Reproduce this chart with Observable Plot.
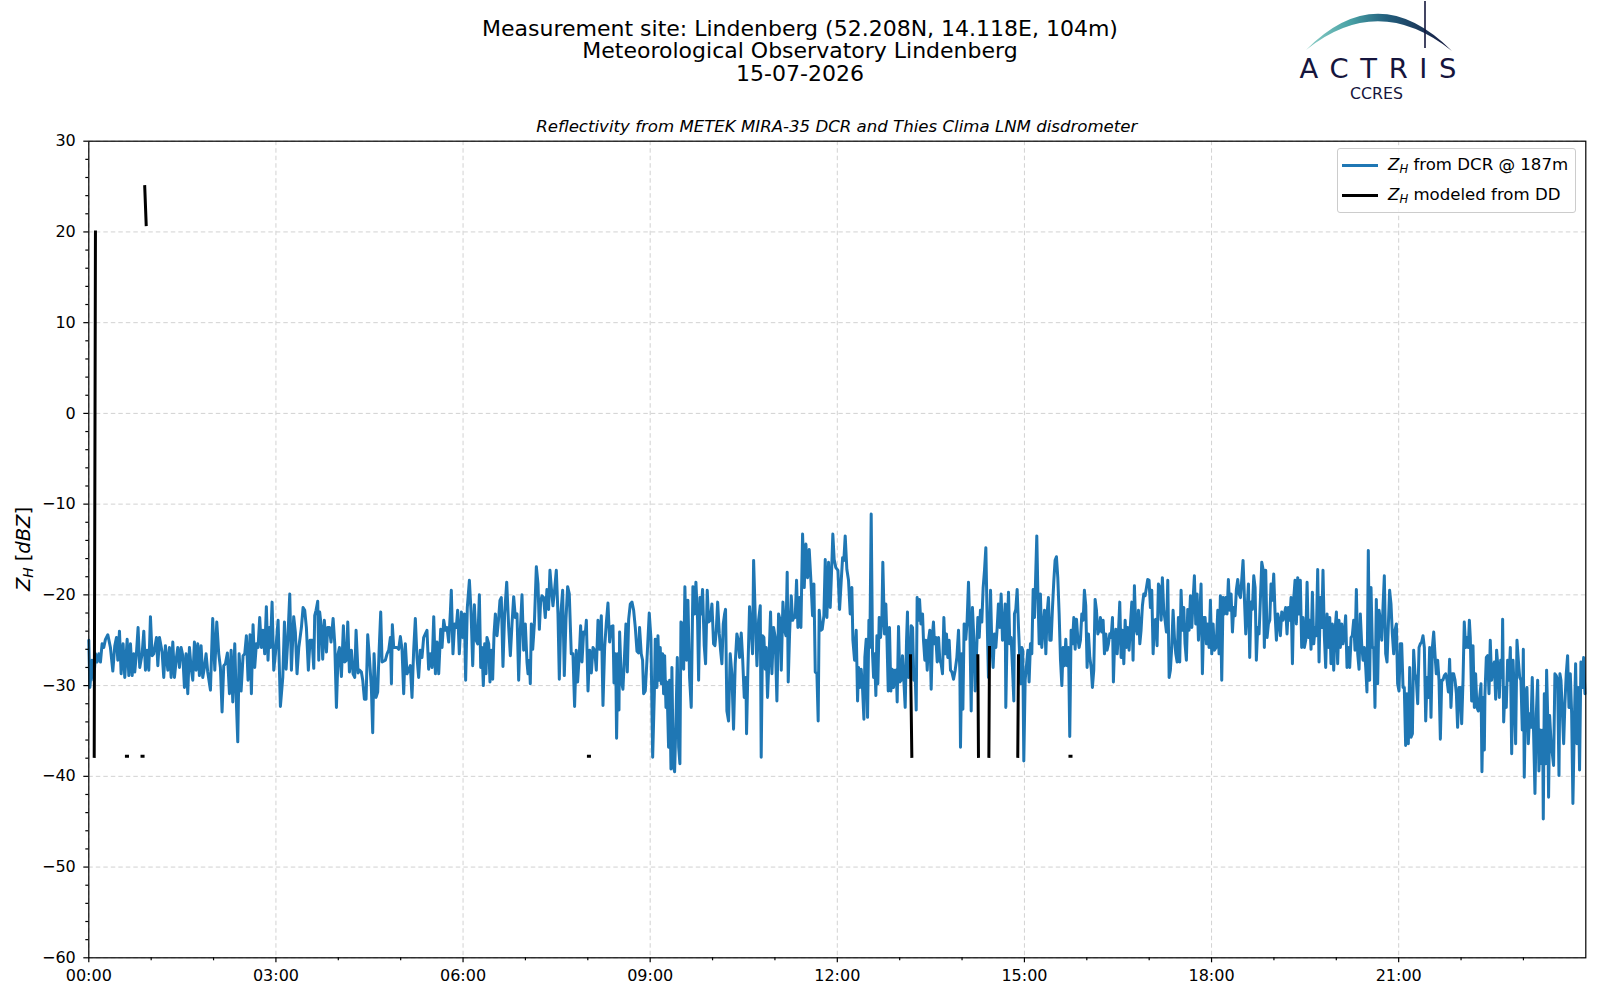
<!DOCTYPE html>
<html>
<head>
<meta charset="utf-8">
<script src="https://cdn.jsdelivr.net/npm/d3@7"></script>
<script src="https://cdn.jsdelivr.net/npm/@observablehq/plot@0.6"></script>
<style>
  html, body { margin: 0; padding: 0; background: #fff; }
  #page { position: relative; width: 1600px; height: 1000px; overflow: hidden; font-family: "DejaVu Sans", sans-serif; color: #000; background: #fff; }
  #chart { position: absolute; left: 0; top: 110px; z-index: 0; }
  #title { position: absolute; left: 0; top: 17.5px; width: 1600px; text-align: center; font-size: 22px; line-height: 22.5px; z-index: 2; }
  #subtitle { position: absolute; left: 88.3px; width: 1497px; top: 117.5px; text-align: center; font-size: 16.6px; line-height: 17px; font-style: italic; z-index: 2; }
  #ylabel { position: absolute; left: 24px; top: 549px; transform: translate(-50%, -50%) rotate(-90deg); font-size: 19.5px; white-space: nowrap; z-index: 2; }
  #ylabel sub, #legend sub { font-size: 0.7em; vertical-align: -0.25em; }
  #legend { position: absolute; left: 1337px; top: 148px; width: 239px; height: 65px; border: 1px solid #cccccc; border-radius: 3px; background: rgba(255,255,255,0.8); box-sizing: border-box; font-size: 16.6px; z-index: 2; }
  .lrow { position: absolute; left: 0; height: 20px; }
  .lline { position: absolute; left: 4px; width: 36px; height: 3px; top: 9px; }
  .ltext { position: absolute; left: 50px; top: 0; line-height: 20px; white-space: nowrap; }
  #logo { position: absolute; left: 0; top: 0; z-index: 2; }
</style>
</head>
<body>
<div id="page">
  <div id="chart"></div>
  <div id="title">Measurement site: Lindenberg (52.208N, 14.118E, 104m)<br>Meteorological Observatory Lindenberg<br>15-07-2026</div>
  <svg id="logo" width="1600" height="110" viewBox="0 0 1600 110">
    <defs>
      <linearGradient id="arcg" x1="1305" y1="0" x2="1452" y2="0" gradientUnits="userSpaceOnUse">
        <stop offset="0" stop-color="#8fd0c8"/>
        <stop offset="0.3" stop-color="#4aa3a6"/>
        <stop offset="0.55" stop-color="#23607e"/>
        <stop offset="1" stop-color="#15173d"/>
      </linearGradient>
    </defs>
    <path d="M1306,50 Q1378,-23 1452,51 Q1378,-8 1306,50 Z" fill="url(#arcg)"/>
    <line x1="1425" y1="1" x2="1425" y2="48" stroke="#15173d" stroke-width="1.6"/>
    <text x="1378" y="78.3" text-anchor="middle" font-family="DejaVu Sans" font-size="27.4" fill="#15153d" textLength="157" lengthAdjust="spacing">ACTRIS</text>
    <text x="1376.5" y="98.7" text-anchor="middle" font-family="DejaVu Sans" font-size="15.5" fill="#15153d" textLength="53" lengthAdjust="spacingAndGlyphs">CCRES</text>
  </svg>
  <div id="subtitle">Reflectivity from METEK MIRA-35 DCR and Thies Clima LNM disdrometer</div>
  <div id="ylabel"><i>Z</i><sub><i>H</i></sub> [<i>dBZ</i>]</div>
  <div id="legend">
    <div class="lrow" style="top:6px;"><div class="lline" style="background:#1f77b4"></div><div class="ltext"><i>Z</i><sub><i>H</i></sub> from DCR @ 187m</div></div>
    <div class="lrow" style="top:35.5px;"><div class="lline" style="background:#000"></div><div class="ltext"><i>Z</i><sub><i>H</i></sub> modeled from DD</div></div>
  </div>
</div>
<script>
// ---- Data: [minutes after 00:00 UTC, Z_H (dBZ)] ----
const dcr_00_03 = [
[0,-25.0],[1,-30.2],[3.2,-27.2],[4.8,-29.4],[6.4,-26.5],[8,-27.4],[9.6,-26.5],[11.2,-27.4],[12.8,-25.4],[14.4,-25.8],[16,-24.9],[18.3,-24.4],[20.8,-25.8],[23.1,-28.4],[25,-25.6],[26.6,-24.7],[27.9,-27.2],[29.5,-24.0],[31.1,-28.7],[33,-25.4],[34.6,-29.1],[36.9,-24.9],[38.5,-28.9],[40.1,-25.4],[41.7,-28.9],[43.3,-26.5],[44.2,-28.5],[45.8,-26.5],[47.4,-23.6],[49,-28.0],[51.3,-26.5],[52.9,-24.0],[54.5,-28.3],[56.1,-26.1],[57.7,-28.3],[59.3,-22.4],[60.9,-26.7],[62.5,-26.5],[65.1,-24.7],[66.4,-27.8],[68,-24.7],[70.5,-26.3],[72.1,-29.1],[73.7,-25.6],[76,-28.3],[77.6,-25.8],[79.2,-29.1],[80.8,-25.2],[82.4,-29.1],[84.3,-26.9],[85.6,-25.8],[87.2,-28.0],[88.8,-25.8],[90.4,-26.7],[92,-30.2],[93.6,-26.5],[95.2,-30.9],[96.8,-25.8],[98.4,-28.0],[100,-29.4],[101.6,-25.2],[103.2,-28.3],[104.8,-25.4],[106.4,-28.9],[108,-25.6],[109.6,-29.1],[111.2,-28.0],[112.8,-26.5],[114.4,-28.5],[117,-30.5],[119.2,-22.6],[121.2,-28.3],[123.1,-23.0],[125,-26.5],[126.6,-28.0],[128.2,-32.9],[129.8,-27.8],[131.4,-27.6],[133.3,-26.4],[135.3,-30.9],[136.9,-26.1],[138.5,-31.8],[140.4,-25.4],[142,-32.0],[143.3,-36.2],[144.6,-26.5],[146.5,-30.6],[148.4,-26.7],[150,-26.5],[151.6,-24.5],[153.2,-29.4],[155.1,-24.4],[156.4,-30.9],[158,-23.3],[159.6,-28.0],[161.2,-25.4],[162.8,-25.8],[164.4,-22.5],[166,-25.8],[167.6,-23.9],[169.2,-26.5],[170.8,-21.3],[172.4,-27.2],[173.7,-23.6],[174.7,-25.8],[176.3,-20.8],[177.9,-28.3]
];
const dcr_03_06 = [
[179.5,-26.5],[182.1,-22.8],[184.3,-32.3],[186.6,-29.1],[188.2,-23.0],[189.8,-28.2],[191.4,-25.0],[193.3,-19.9],[194.9,-28.3],[197.1,-22.4],[198.7,-24.1],[200.3,-28.7],[202,-25.8],[204.5,-23.6],[206.1,-21.4],[207.7,-21.7],[209.3,-23.6],[211.2,-28.3],[212.8,-25.0],[214.8,-25.0],[216.4,-28.1],[217.3,-22.3],[218.6,-21.7],[220.2,-20.7],[221.2,-27.2],[222.1,-21.9],[223.7,-23.6],[225,-27.1],[226.6,-22.8],[228.6,-26.3],[229.8,-23.6],[231.4,-23.6],[233,-25.2],[235,-22.6],[236.6,-25.4],[238.2,-32.4],[239.8,-26.5],[241.1,-25.8],[243,-29.0],[244.9,-23.4],[246.2,-27.4],[247.8,-27.2],[249.1,-23.0],[250.7,-28.5],[252.6,-26.1],[254.2,-28.7],[255.8,-29.1],[257.1,-23.9],[259,-28.6],[260.6,-28.3],[262.2,-28.5],[263.5,-29.4],[265.1,-31.5],[266.7,-31.5],[268.3,-24.4],[269.9,-26.9],[271.8,-30.2],[273.1,-35.2],[274.4,-26.5],[276.3,-31.3],[277.9,-30.7],[279.2,-26.3],[280.8,-21.9],[282.1,-27.4],[285.3,-27.2],[286.9,-26.5],[288.5,-26.1],[290.1,-24.7],[291.1,-29.8],[292,-23.3],[293.3,-25.8],[296.5,-25.8],[298.1,-26.0],[299.7,-24.6],[301.3,-26.0],[302.9,-30.9],[304.5,-25.4],[306.1,-28.7],[307.7,-28.3],[309.3,-27.8],[310.9,-31.3],[312.5,-26.1],[314.1,-22.6],[315.7,-26.9],[317.3,-29.1],[318.9,-26.1],[320.5,-26.9],[322.1,-24.7],[323.7,-24.3],[325.3,-23.9],[326.9,-28.2],[328.5,-26.5],[330.2,-28.0],[331.8,-22.4],[333.4,-28.7],[335,-25.2],[336.6,-28.7],[338.5,-23.8],[339.8,-25.8],[341.4,-22.8],[343,-23.9],[344.6,-23.6],[346.2,-25.2],[347.8,-21.9],[348.7,-19.5],[350.3,-26.5],[351.9,-23.2],[353.5,-23.6],[354.8,-21.7],[356.4,-26.5]
];
const dcr_06_09 = [
[358.4,-21.9],[359.7,-24.7],[361.3,-22.1],[362.5,-29.4],[364.1,-21.4],[366.1,-18.4],[367.7,-21.9],[369.3,-27.8],[370.9,-21.1],[372.5,-25.0],[374.1,-25.4],[375.7,-20.0],[377,-28.0],[378.2,-25.8],[379.5,-30.0],[380.8,-25.4],[382.1,-28.7],[383,-24.7],[384.7,-25.4],[385.9,-29.6],[387.2,-26.1],[388.5,-29.3],[389.8,-24.3],[391.1,-22.1],[392.7,-24.5],[394.3,-22.5],[395.5,-20.6],[396.8,-20.3],[398.4,-27.9],[400,-22.1],[402,-18.6],[403.9,-23.6],[405.5,-26.7],[407.1,-23.2],[408.7,-20.2],[410.3,-22.5],[411.9,-22.1],[413.5,-29.4],[415.1,-23.9],[416.7,-20.0],[418.3,-26.1],[419.9,-23.2],[421.5,-27.4],[422.5,-28.7],[423.8,-27.2],[424.7,-29.8],[425.7,-23.2],[427,-26.0],[428.6,-23.2],[430.5,-16.9],[432.1,-18.8],[433.4,-23.8],[434.6,-20.8],[435.9,-20.1],[437.5,-20.3],[439.1,-22.5],[440.7,-19.4],[442.3,-21.6],[443.6,-17.3],[444.9,-19.2],[446.5,-21.2],[448.1,-19.4],[449.7,-17.3],[451.3,-22.1],[452.6,-29.3],[454.2,-21.9],[455.8,-19.5],[457.4,-28.9],[459,-22.7],[460.6,-19.1],[462.2,-19.9],[464.1,-26.5],[465.7,-26.5],[467.3,-32.3],[468.9,-26.1],[470.2,-29.6],[471.8,-26.7],[473.1,-23.4],[474.4,-27.4],[476,-24.1],[477.6,-24.3],[478.6,-22.8],[480.2,-30.6],[481.8,-26.1],[483.4,-28.6],[485,-25.8],[486.6,-26.1],[488.2,-28.3],[489.8,-22.8],[491.4,-26.0],[493,-22.3],[494.6,-32.2],[496.2,-25.8],[497.8,-23.1],[499.4,-20.9],[501,-25.2],[502.6,-23.5],[504.2,-23.4],[505.2,-29.7],[506.8,-26.5],[507.7,-35.8],[509,-26.5],[510,-32.7],[510.6,-24.1],[512.2,-29.4],[513.8,-30.4],[515.4,-26.5],[516.7,-23.2],[518,-28.5],[519.3,-22.7],[520.9,-21.0],[522.5,-20.8],[524.1,-21.7],[525.7,-23.6],[527.3,-26.2],[528.9,-26.4],[529.8,-23.6],[531.4,-26.5],[532.7,-27.2],[533.7,-30.9],[535.3,-30.6],[536.9,-27.2]
];
const dcr_09_12 = [
[539.1,-22.0],[540.7,-24.7],[542.4,-37.9],[544,-30.9],[544.9,-24.9],[546.5,-30.2],[547.5,-24.5],[548.8,-29.4],[549.7,-25.8],[550.7,-29.8],[552,-26.5],[552.9,-30.9],[553.9,-26.7],[555.2,-32.4],[556.1,-29.6],[557.7,-36.8],[558.7,-29.4],[560,-39.2],[560.9,-28.0],[562.2,-38.8],[563.5,-39.5],[564.8,-33.9],[566.1,-26.9],[567.4,-36.8],[568.6,-38.6],[569.6,-23.0],[571.2,-23.2],[572.2,-28.2],[573.4,-19.1],[575,-27.2],[576.3,-20.6],[577.9,-29.1],[579.5,-32.4],[581.1,-19.1],[582.7,-22.1],[584,-18.6],[585.6,-22.8],[586.6,-29.4],[587.9,-20.3],[589.1,-22.1],[590.4,-19.4],[592,-25.6],[593.3,-27.6],[594.9,-19.5],[596.2,-23.0],[597.8,-22.8],[599.4,-21.0],[601,-25.4],[602.3,-25.6],[603.6,-23.9],[604.9,-20.8],[606.5,-24.3],[607.7,-26.1],[609,-27.6],[610.3,-23.2],[611.6,-22.1],[612.5,-21.6],[613.8,-32.8],[615.4,-33.9],[617,-26.5],[618.6,-28.7],[620.2,-34.8],[621.8,-27.6],[623.4,-24.3],[624.7,-25.0],[626,-26.9],[627.6,-24.2],[628.9,-26.9],[630.5,-31.3],[632.1,-29.1],[632.7,-35.3],[634,-28.3],[635.6,-21.3],[637.2,-23.9],[638.5,-26.5],[639.5,-16.2],[641.1,-22.5],[642.7,-27.8],[644.3,-22.8],[645.9,-21.2],[646.8,-37.9],[648.1,-24.5],[649.4,-24.7],[650.7,-28.2],[651.6,-25.8],[652.9,-31.3],[654.2,-27.4],[655.8,-21.9],[657.1,-28.7],[658.7,-23.6],[660.3,-24.7],[661.9,-31.7],[663.5,-22.1],[665.1,-22.8],[666.1,-28.3],[667.7,-20.8],[669.3,-23.9],[670.6,-24.5],[671.8,-17.5],[672.8,-29.6],[674.1,-24.3],[675.7,-20.1],[677,-22.8],[678.2,-22.5],[679.5,-22.5],[680.8,-18.4],[682.1,-23.6],[683.7,-20.3],[685,-23.6],[686.6,-13.3],[688.2,-19.2],[689.8,-14.4],[691.4,-18.1],[693,-15.0],[694.6,-18.4],[696.2,-22.3],[697.5,-18.8],[698.8,-28.5],[700.4,-28.7],[701.6,-33.9],[702.6,-21.7],[704.2,-23.9],[705.5,-23.8],[707.1,-22.3],[708.4,-16.1],[710,-22.5],[711.6,-16.4],[713.2,-21.4],[714.8,-16.4],[715.7,-13.3],[717,-16.1],[718.6,-17.0]
];
const dcr_12_15 = [
[720.6,-17.3],[722.2,-21.6],[723.8,-18.4],[725.1,-15.9],[726.3,-16.2],[727.6,-13.5],[729.2,-17.2],[730.8,-18.4],[732.4,-22.1],[734,-19.2],[735,-25.0],[736.6,-27.2],[738.2,-23.9],[739.5,-31.7],[740.4,-28.0],[741.7,-30.2],[743,-28.2],[744.3,-30.4],[745.6,-33.7],[746.5,-26.9],[747.8,-24.9],[749.1,-33.5],[750.4,-22.8],[751.3,-25.8],[752.6,-11.1],[753.9,-26.5],[754.9,-29.1],[755.8,-26.5],[757.1,-31.1],[758.1,-24.5],[759,-29.8],[760.3,-22.5],[761.6,-24.7],[762.9,-22.5],[763.8,-16.4],[765.4,-24.3],[766.7,-21.0],[767.7,-24.5],[769,-30.6],[770.2,-23.6],[771.5,-30.6],[772.8,-28.2],[774.1,-30.2],[775.4,-28.3],[776.7,-28.3],[777.6,-31.8],[778.9,-23.5],[780.2,-29.6],[781.5,-29.4],[782.7,-26.7],[784,-29.4],[785.3,-32.4],[786.6,-25.0],[787.5,-21.9],[788.5,-29.1],[789.8,-28.3],[791.1,-23.4],[792.4,-23.6],[793.6,-29.4],[794.9,-28.7],[795.9,-32.7],[796.8,-20.3],[798.1,-22.8],[799.1,-20.5],[800.4,-23.2],[802,-22.1],[802.9,-25.0],[804.2,-27.2],[805.2,-25.0],[806.5,-28.3],[807.7,-25.0],[809,-23.9],[810.3,-30.4],[811.6,-24.3],[812.5,-23.0],[813.5,-25.4],[814.8,-24.7],[816.1,-27.4],[817.4,-24.7],[818.6,-27.2],[819.9,-27.6],[821.2,-28.7],[822.5,-22.5],[823.8,-26.5],[825,-24.3],[826.3,-26.9],[827.6,-25.0],[828.9,-28.3],[830.2,-28.5],[831.8,-29.3],[833.4,-28.3],[835,-26.9],[836.6,-23.9],[837.9,-28.5],[838.5,-36.8],[839.8,-26.5],[840.8,-32.6],[842,-23.2],[843.6,-24.9],[844.9,-22.8],[846.2,-18.6],[847.5,-23.6],[848.8,-32.8],[850,-21.4],[851.3,-24.7],[852.6,-30.6],[853.9,-26.5],[855.2,-22.5],[856.5,-24.7],[857.7,-21.7],[859,-23.0],[860.3,-19.2],[861.6,-17.3],[862.9,-14.8],[864.1,-22.5],[865.4,-29.1],[866.7,-22.8],[867.4,-19.5],[868.6,-25.4],[869.9,-28.0],[871.2,-24.3],[872.5,-25.8],[873.8,-23.6],[875,-21.0],[876.3,-23.6],[877.6,-19.9],[878.9,-25.0],[880.2,-23.6],[881.5,-21.0],[882.1,-32.4],[883.4,-23.9],[884.7,-19.7],[885.9,-25.4],[887.2,-24.7],[888.5,-28.0],[889.8,-31.7],[890.4,-22.1],[891.7,-21.6],[893,-19.4],[894.3,-23.6],[895.2,-26.1],[896.5,-29.8],[897.5,-25.8],[898.4,-26.1],[899.4,-38.3],[900.7,-29.4]
];
const dcr_15_18 = [
[903.3,-26.1],[904.5,-29.6],[905.8,-25.4],[907.1,-26.5],[908.4,-19.4],[909.7,-22.5],[911.9,-13.5],[912.9,-19.5],[914.2,-25.4],[915.4,-19.9],[916.7,-25.8],[918,-23.6],[919.3,-21.7],[920.6,-26.5],[921.9,-21.9],[923.1,-20.3],[924.4,-25.0],[925.7,-25.0],[927,-21.4],[928.3,-18.4],[929.5,-16.2],[930.8,-15.8],[932.1,-18.1],[933.4,-22.1],[934.7,-27.2],[936,-30.0],[937.2,-25.8],[938.5,-27.8],[939.8,-24.9],[941.1,-27.8],[942.4,-25.8],[943.6,-35.6],[944.9,-23.9],[946.2,-25.4],[947.5,-22.5],[948.8,-26.0],[950.1,-22.7],[951.3,-24.7],[952.6,-25.8],[953.9,-25.0],[955.2,-22.1],[956.5,-22.8],[957.7,-19.5],[959,-21.2],[960.3,-28.0],[961.6,-24.3],[962.9,-26.9],[964.2,-28.0],[965.4,-30.2],[966.7,-28.3],[968,-20.5],[969.3,-21.7],[970.6,-24.3],[971.9,-23.9],[973.1,-22.5],[974.4,-24.1],[975.7,-22.8],[977,-26.5],[978.3,-24.3],[979.5,-26.1],[980.8,-25.4],[982.1,-24.3],[983.4,-24.7],[984.7,-22.5],[985.6,-29.6],[986.6,-25.8],[987.9,-23.8],[989.2,-26.5],[990.4,-24.3],[991.7,-20.8],[993,-26.9],[994.3,-23.9],[995.6,-27.6],[996.9,-22.8],[998.1,-25.8],[999.4,-23.6],[1000.7,-26.1],[1002,-23.2],[1003.3,-20.8],[1004.5,-27.2],[1005.8,-19.0],[1007.1,-23.6],[1008.4,-24.3],[1009.7,-21.7],[1011,-25.4],[1012.2,-23.9],[1013.5,-21.2],[1014.8,-19.9],[1016.1,-20.1],[1017.4,-19.2],[1018.6,-18.3],[1019.9,-18.4],[1021.2,-21.4],[1022.5,-19.5],[1023.8,-26.5],[1025.1,-22.8],[1026.3,-22.7],[1027.6,-25.6],[1028.9,-18.8],[1030.2,-19.2],[1031.5,-22.8],[1032.7,-18.1],[1034,-21.7],[1035.3,-22.8],[1036.6,-24.1],[1037.9,-18.4],[1039.2,-29.1],[1040.4,-28.3],[1041.7,-25.8],[1043,-21.7],[1044.3,-24.7],[1045.6,-26.5],[1046.9,-27.4],[1048.1,-22.5],[1049.4,-27.4],[1050.7,-19.5],[1052,-23.9],[1053.3,-21.4],[1054.5,-25.4],[1055.8,-27.2],[1057.1,-21.6],[1058.4,-23.9],[1059.7,-20.1],[1061,-23.6],[1062.2,-20.6],[1063.5,-17.9],[1064.8,-23.2],[1066.1,-19.9],[1067.4,-25.0],[1068.6,-22.5],[1069.9,-18.8],[1071.2,-28.7],[1072.5,-22.5],[1073.8,-22.5],[1075.1,-25.4],[1076.3,-23.2],[1077.6,-25.8],[1078.9,-20.6],[1080.2,-26.5],[1081.5,-23.2],[1082.7,-26.1]
];
const dcr_18_21 = [
[1084.4,-25.8],[1086,-21.7],[1087.2,-26.5],[1088.5,-20.1],[1089.8,-29.4],[1091.1,-20.3],[1092.4,-22.1],[1093.7,-20.3],[1094.9,-22.1],[1096.2,-18.3],[1097.5,-21.7],[1098.8,-19.9],[1100.1,-24.1],[1101.3,-21.4],[1102.6,-22.3],[1103.9,-19.4],[1105.2,-18.3],[1106.5,-19.9],[1107.8,-20.3],[1109,-18.4],[1110.3,-16.2],[1111.6,-20.3],[1112.9,-24.3],[1114.2,-21.7],[1115.5,-18.8],[1116.7,-26.9],[1118,-20.8],[1119.3,-21.6],[1120.6,-17.9],[1121.9,-19.2],[1123.1,-27.2],[1124.4,-23.6],[1125.7,-24.3],[1127,-20.5],[1128.3,-16.4],[1129.6,-17.2],[1130.8,-25.8],[1132.1,-17.3],[1133.4,-24.7],[1134.7,-23.2],[1136,-22.8],[1137.2,-18.8],[1138.5,-20.6],[1139.8,-17.7],[1141.1,-22.1],[1142.4,-25.0],[1143.7,-22.1],[1144.9,-22.8],[1146.2,-24.5],[1147.5,-21.9],[1148.8,-22.8],[1150.1,-22.1],[1151.3,-21.4],[1152.6,-24.3],[1153.9,-21.4],[1155.2,-22.8],[1156.5,-20.3],[1157.8,-27.6],[1159,-20.5],[1160.3,-18.4],[1161.6,-23.2],[1162.9,-18.1],[1164.2,-22.1],[1165.4,-18.4],[1166.7,-25.8],[1168,-22.5],[1169.3,-25.8],[1170.6,-25.0],[1171.9,-18.6],[1173.1,-24.7],[1174.4,-22.8],[1175.7,-26.0],[1177,-19.7],[1178.3,-25.4],[1179.6,-23.6],[1180.8,-24.5],[1182.1,-17.2],[1183.4,-27.4],[1184.7,-20.3],[1186,-23.6],[1187.2,-17.3],[1188.5,-24.5],[1189.8,-28.0],[1191.1,-22.1],[1192.4,-25.8],[1193.7,-22.5],[1194.9,-27.6],[1196.2,-23.2],[1197.5,-28.3],[1198.8,-23.9],[1200.1,-21.9],[1201.3,-27.6],[1202.6,-22.8],[1203.9,-25.8],[1205.2,-23.2],[1206.5,-25.4],[1207.8,-24.1],[1209,-22.3],[1210.3,-28.0],[1211.6,-25.8],[1212.9,-28.0],[1214.2,-24.7],[1215.4,-24.5],[1216.7,-22.8],[1218,-26.1],[1219.3,-19.4],[1220.6,-26.5],[1221.9,-28.2],[1223.1,-22.1],[1224.4,-25.4],[1225.7,-27.2],[1227,-25.8],[1228.3,-28.0],[1229.5,-30.7],[1230.8,-15.1],[1232.1,-29.4],[1233.4,-19.2],[1234.7,-25.8],[1236,-25.8],[1237.2,-32.4],[1238.5,-20.5],[1239.8,-29.8],[1241.1,-21.7],[1242.4,-22.8],[1243.7,-25.0],[1244.9,-21.4],[1246.2,-17.9],[1247.5,-26.5],[1248.8,-27.4],[1250.1,-23.2],[1251.3,-19.5],[1252.6,-21.0],[1253.9,-24.3],[1255.2,-26.5],[1256.5,-23.9],[1257.8,-23.2],[1259,-29.8],[1260.3,-30.6],[1261.6,-25.4],[1262.9,-25.4],[1264.2,-30.2],[1265.4,-30.2],[1266.7,-36.6],[1268,-30.9],[1269.3,-36.4]
];
const dcr_21_24 = [
[1270.6,-28.0],[1271.9,-35.7],[1273.2,-35.3],[1274.4,-26.1],[1275.7,-28.7],[1277,-29.4],[1278.3,-32.0],[1279.6,-25.8],[1280.8,-25.4],[1282.1,-25.2],[1283.4,-24.5],[1284.7,-25.8],[1286,-33.9],[1287.3,-29.1],[1288.5,-31.3],[1289.8,-25.8],[1291.1,-33.5],[1292.4,-25.8],[1293.7,-24.1],[1294.9,-26.5],[1296.2,-28.7],[1297.5,-27.2],[1298.8,-29.4],[1300.1,-35.9],[1301.4,-29.4],[1302.6,-29.4],[1303.9,-28.9],[1305.2,-28.7],[1306.5,-29.4],[1307.8,-30.7],[1309,-27.1],[1310.3,-32.4],[1311.6,-28.7],[1312.9,-28.7],[1314.2,-29.4],[1315.5,-30.9],[1316.7,-34.6],[1318,-30.2],[1319.3,-30.2],[1320.6,-34.2],[1321.9,-29.4],[1323.1,-23.0],[1324.4,-25.8],[1325.7,-24.7],[1327,-25.8],[1328,-22.8],[1328.9,-24.7],[1330.2,-31.7],[1331.5,-25.6],[1332.8,-32.4],[1334,-28.7],[1335.3,-32.4],[1336.6,-32.8],[1337.9,-31.3],[1339.2,-29.8],[1340.1,-39.5],[1341.4,-31.3],[1342.4,-37.1],[1343,-30.9],[1344.3,-26.9],[1345.6,-26.7],[1346.9,-30.9],[1348.1,-25.0],[1349.4,-29.4],[1350.7,-28.0],[1352,-27.4],[1353.3,-31.5],[1354.2,-26.1],[1355.5,-28.0],[1356.8,-31.3],[1358.1,-27.2],[1359.4,-29.1],[1360,-22.7],[1361,-34.0],[1362.3,-30.2],[1363.5,-32.4],[1364.8,-27.2],[1366.1,-29.4],[1367.4,-25.8],[1368.7,-37.5],[1370,-27.2],[1371.2,-30.9],[1372.5,-36.4],[1373.8,-25.0],[1375.1,-27.2],[1376.4,-29.1],[1377.6,-29.4],[1378.9,-34.9],[1379.9,-26.0],[1380.8,-40.1],[1382.1,-30.9],[1383.4,-30.2],[1384.7,-36.4],[1386,-33.1],[1387.2,-34.6],[1388.5,-29.1],[1389.8,-35.3],[1391.1,-41.9],[1392.4,-33.1],[1393.7,-29.4],[1394.9,-39.4],[1396.2,-34.9],[1397.5,-38.6],[1398.5,-34.9],[1399.1,-44.7],[1400.1,-30.9],[1401.4,-38.6],[1402.3,-28.3],[1403.3,-33.1],[1404.2,-42.3],[1405.2,-33.3],[1406.5,-36.1],[1407.8,-37.5],[1409,-38.8],[1410.3,-28.7],[1411.6,-28.9],[1412.9,-29.4],[1414.2,-39.9],[1415.1,-28.7],[1416.1,-29.4],[1417.4,-32.8],[1418.7,-36.4],[1419.9,-32.0],[1421.2,-28.7],[1422.5,-26.7],[1423.8,-32.4],[1425.1,-28.7],[1426.4,-33.1],[1427.6,-43.0],[1428.9,-34.6],[1430.2,-27.6],[1431.5,-36.4],[1432.8,-30.2],[1434,-39.3],[1435.3,-27.4],[1436.6,-30.2],[1437.9,-26.9],[1439.2,-30.9]
];
// Disdrometer-modeled Z_H: separate short segments
const dd_segments = [
  [[5.2,-37.8],[6.4,20.0]],
  [[36.2,-37.8],[37.2,-37.8]],
  [[51.2,-37.8],[52.2,-37.8]],
  [[53.8,25.0],[55.2,20.8]],
  [[480.6,-37.8],[481.6,-37.8]],
  [[790.4,-26.7],[791.7,-37.8]],
  [[855.2,-26.7],[855.8,-37.8]],
  [[865.8,-37.8],[866.4,-25.8]],
  [[893.6,-37.8],[894.3,-26.7]],
  [[943.8,-37.8],[944.8,-37.8]]
];
const xMajorHours = [0, 3, 6, 9, 12, 15, 18, 21];
const xTickLabels = ["00:00", "03:00", "06:00", "09:00", "12:00", "15:00", "18:00", "21:00"];
const yMajor = [-60, -50, -40, -30, -20, -10, 0, 10, 20, 30];

// ---- Build ----
const day0 = Date.UTC(2026, 6, 15);
const toDate = (m) => new Date(day0 + m * 60000);
const dcr = [].concat(dcr_00_03, dcr_03_06, dcr_06_09, dcr_09_12, dcr_12_15, dcr_15_18, dcr_18_21, dcr_21_24)
  .map(([m, z]) => ({t: toDate(m), z}));
const dd = [];
dd_segments.forEach((seg, i) => {
  seg.forEach(([m, z]) => dd.push({t: toDate(m), z}));
  if (i < dd_segments.length - 1) dd.push({t: toDate((seg[seg.length - 1][0] + dd_segments[i + 1][0][0]) / 2), z: NaN});
});
const xMajor = xMajorHours.map(h => toDate(h * 60));
const xMinor = d3.range(1, 24).filter(h => h % 3 !== 0).map(h => toDate(h * 60));
const yMinor = d3.range(-58, 30, 2).filter(v => v % 10 !== 0);
const labelOf = new Map(xMajor.map((d, i) => [+d, xTickLabels[i]]));
const fmtY = (d) => d < 0 ? "\u2212" + (-d) : String(d);
const gridStyle = {stroke: "#d2d2d2", strokeOpacity: 1, strokeWidth: 1, strokeDasharray: "4.5,3"};

const chart = Plot.plot({
  width: 1600,
  height: 890,
  marginTop: 30.7,
  marginLeft: 88.3,
  marginRight: 14.7,
  marginBottom: 42.7,
  style: {fontFamily: "DejaVu Sans", fontSize: "16px", color: "black", background: "transparent", overflow: "visible"},
  x: {type: "utc", domain: [toDate(0), toDate(1440)]},
  y: {domain: [-60, 30]},
  marks: [
    Plot.gridX(xMajor, gridStyle),
    Plot.gridY(yMajor, gridStyle),
    Plot.line(dcr, {x: "t", y: "z", stroke: "#1f77b4", strokeWidth: 3, strokeLinejoin: "round"}),
    Plot.line(dd, {x: "t", y: "z", stroke: "black", strokeWidth: 3, strokeLinecap: "square"}),
    Plot.frame({stroke: "black", strokeWidth: 1.2}),
    Plot.axisX(xMajor, {tickSize: 5, tickPadding: 7, strokeWidth: 1.2, tickFormat: d => labelOf.get(+d), label: null, fontSize: 16}),
    Plot.axisX(xMinor, {tickSize: 3, strokeWidth: 1.2, tickFormat: () => "", label: null}),
    Plot.axisY(yMajor, {tickSize: 5, tickPadding: 8, strokeWidth: 1.2, tickFormat: fmtY, label: null, fontSize: 16}),
    Plot.axisY(yMinor, {tickSize: 3, strokeWidth: 1.2, tickFormat: () => "", label: null})
  ]
});
document.getElementById("chart").appendChild(chart);
</script>
</body>
</html>
